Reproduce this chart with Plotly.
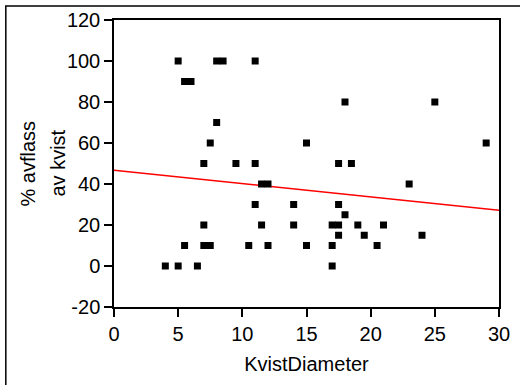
import plotly.graph_objects as go

kvist_diameter = [5, 8, 8.5, 11, 5.5, 6, 8, 7.5, 15, 18, 25, 29,
                  7, 9.5, 11, 11.5, 12, 11, 14, 7, 11.5, 14,
                  5.5, 7, 7.5, 10.5, 12, 15, 4, 5, 6.5,
                  17.5, 18.5, 23, 17.5, 18, 17, 17.5, 19, 21,
                  17.5, 19.5, 24, 17, 20.5, 17]
avflass = [100, 100, 100, 100, 90, 90, 70, 60, 60, 80, 80, 60,
           50, 50, 50, 40, 40, 30, 30, 20, 20, 20,
           10, 10, 10, 10, 10, 10, 0, 0, 0,
           50, 50, 40, 30, 25, 20, 20, 20, 20,
           15, 15, 15, 10, 10, 0]

fit_x = [0, 30]
fit_y = [46.7, 27.2]

x_ticks = [0, 5, 10, 15, 20, 25, 30]
y_ticks = [-20, 0, 20, 40, 60, 80, 100, 120]
y_tick_labels = ["-20", "0", "20", "40", "60", "80", "100", "120"]
y_title_lines = ["% avflass", "av kvist"]

FONT = "Liberation Sans, Arial, sans-serif"

fig = go.Figure()
fig.add_trace(go.Scatter(x=fit_x, y=fit_y, mode="lines",
                         line=dict(color="#ff0000", width=1.5),
                         showlegend=False, hoverinfo="skip"))
fig.add_trace(go.Scatter(x=kvist_diameter, y=avflass, mode="markers",
                         marker=dict(symbol="square", size=7, color="black",
                                     line=dict(width=0)),
                         showlegend=False))

axis_common = dict(showgrid=False, zeroline=False, showline=True,
                   linecolor="black", linewidth=1.5, mirror=True,
                   ticks="outside", ticklen=8, tickwidth=1.5,
                   tickcolor="black",
                   tickfont=dict(family=FONT, size=20, color="black"))

annotations = [
    dict(text=y_title_lines[0], xref="paper", yref="paper",
         x=-0.2234, y=0.5, xanchor="center", yanchor="middle",
         textangle=-90, showarrow=False,
         font=dict(family=FONT, size=20, color="black")),
    dict(text=y_title_lines[1], xref="paper", yref="paper",
         x=-0.148, y=0.5, xanchor="center", yanchor="middle",
         textangle=-90, showarrow=False,
         font=dict(family=FONT, size=20, color="black")),
]

fig.update_layout(
    width=520, height=385,
    margin=dict(l=114, r=21, t=20, b=78, autoexpand=False),
    paper_bgcolor="white", plot_bgcolor="white",
    font=dict(family=FONT, color="black"),
    xaxis=dict(range=[0, 30], tickvals=x_ticks,
               title=dict(text="KvistDiameter",
                          font=dict(family=FONT, size=20), standoff=13),
               **axis_common),
    yaxis=dict(range=[-20, 120], tickvals=y_ticks, ticktext=y_tick_labels,
               **axis_common),
    annotations=annotations,
    shapes=[dict(type="rect", xref="paper", yref="paper",
                 x0=-0.281, x1=1.2, y0=-0.6, y1=1.049,
                 line=dict(color="black", width=1.5),
                 fillcolor="rgba(0,0,0,0)", layer="below")],
)

fig.write_html("out.html")
